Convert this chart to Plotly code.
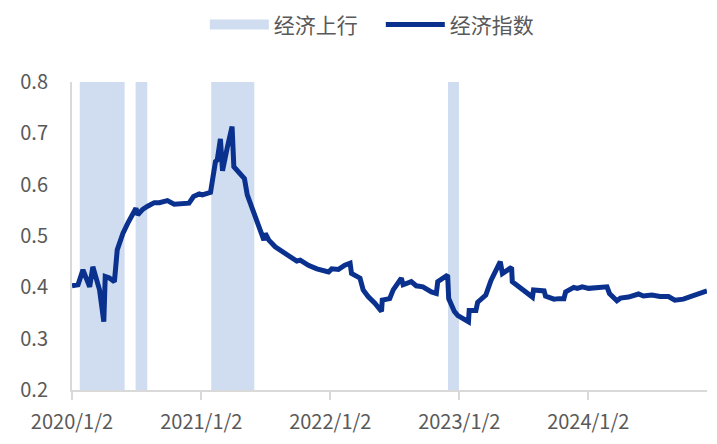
import plotly.graph_objects as go

# ---- data ----
dates = [
    "2020-01-02", "2020-01-19", "2020-02-02", "2020-02-11", "2020-02-21", "2020-03-01",
    "2020-03-10", "2020-03-20", "2020-04-01", "2020-04-05", "2020-04-17", "2020-05-01",
    "2020-05-09", "2020-05-25", "2020-06-08", "2020-06-27", "2020-07-01", "2020-07-06",
    "2020-07-20", "2020-08-03", "2020-08-22", "2020-09-05", "2020-09-28", "2020-10-17",
    "2020-11-09", "2020-11-28", "2020-12-11", "2020-12-27", "2021-01-05", "2021-01-28",
    "2021-02-11", "2021-02-16", "2021-02-25", "2021-03-03", "2021-03-16", "2021-03-30",
    "2021-04-04", "2021-04-23", "2021-05-04", "2021-05-12", "2021-05-30", "2021-06-14",
    "2021-06-28", "2021-07-02", "2021-07-12", "2021-07-30", "2021-08-13", "2021-09-01",
    "2021-09-29", "2021-10-09", "2021-11-01", "2021-11-25", "2021-12-18", "2021-12-28",
    "2022-01-06", "2022-01-25", "2022-02-12", "2022-02-27", "2022-03-03", "2022-03-27",
    "2022-04-05", "2022-04-19", "2022-05-08", "2022-05-27", "2022-05-29", "2022-06-19",
    "2022-06-29", "2022-07-22", "2022-07-27", "2022-08-19", "2022-09-02", "2022-09-21",
    "2022-10-15", "2022-10-29", "2022-11-02", "2022-11-30", "2022-12-03", "2022-12-19",
    "2022-12-29", "2023-01-07", "2023-01-28", "2023-01-30", "2023-02-18", "2023-02-23",
    "2023-03-18", "2023-04-02", "2023-04-28", "2023-05-04", "2023-05-30", "2023-06-01",
    "2023-06-25", "2023-07-28", "2023-07-31", "2023-08-30", "2023-09-03", "2023-09-27",
    "2023-10-11", "2023-10-25", "2023-10-30", "2023-11-22", "2023-12-02", "2023-12-16",
    "2024-01-03", "2024-01-13", "2024-02-01", "2024-02-24", "2024-03-02", "2024-03-23",
    "2024-04-02", "2024-04-25", "2024-05-23", "2024-06-06", "2024-06-30", "2024-07-23",
    "2024-08-16", "2024-09-03", "2024-09-27", "2024-10-16", "2024-10-30", "2024-11-22",
    "2024-12-03",
]
index_values = [
    0.403, 0.405, 0.434, 0.421, 0.401, 0.440,
    0.414, 0.395, 0.333, 0.421, 0.418, 0.411,
    0.473, 0.505, 0.525, 0.547, 0.554, 0.541,
    0.552, 0.558, 0.565, 0.565, 0.569, 0.562,
    0.562, 0.564, 0.577, 0.582, 0.580, 0.585,
    0.645, 0.648, 0.689, 0.627, 0.671, 0.713,
    0.635, 0.622, 0.612, 0.580, 0.547, 0.518,
    0.492, 0.505, 0.492, 0.479, 0.473, 0.463,
    0.451, 0.453, 0.443, 0.436, 0.432, 0.430,
    0.436, 0.435, 0.443, 0.447, 0.427, 0.418,
    0.395, 0.382, 0.369, 0.353, 0.375, 0.378,
    0.395, 0.418, 0.405, 0.411, 0.403, 0.401,
    0.391, 0.388, 0.411, 0.424, 0.378, 0.353,
    0.345, 0.342, 0.333, 0.355, 0.355, 0.371,
    0.385, 0.414, 0.450, 0.427, 0.439, 0.411,
    0.398, 0.381, 0.395, 0.393, 0.383, 0.377,
    0.378, 0.378, 0.391, 0.400, 0.398, 0.401,
    0.398, 0.399, 0.399, 0.401, 0.388, 0.374,
    0.379, 0.381, 0.387, 0.383, 0.385, 0.382,
    0.382, 0.375, 0.377, 0.381, 0.385, 0.391,
    0.393,
]
upturn_starts = ["2020-01-24", "2020-06-30", "2021-01-30", "2022-12-01"]
upturn_ends = ["2020-05-30", "2020-08-02", "2021-06-01", "2023-01-01"]

tick_dates = ["2020-01-02", "2021-01-02", "2022-01-02", "2023-01-02", "2024-01-02"]
tick_labels = ["2020/1/2", "2021/1/2", "2022/1/2", "2023/1/2", "2024/1/2"]
y_ticks = [0.2, 0.3, 0.4, 0.5, 0.6, 0.7, 0.8]
y_min, y_max = 0.2, 0.8
x_start, x_end = "2020-01-02", "2024-12-03"

# ---- style ----
FONT = "Noto Sans CJK SC"
TXT = "#595959"
BAND = "#D0DDF0"
LINE = "#0B318F"
AXIS = "#D9D9D9"

band_x, band_y = [], []
for s, e in zip(upturn_starts, upturn_ends):
    band_x += [s, s, e, e, s, None]
    band_y += [y_min, y_max, y_max, y_min, y_min, None]

fig = go.Figure()
fig.add_trace(go.Scatter(
    x=band_x, y=band_y, mode="lines", fill="toself", fillcolor=BAND,
    line=dict(width=0, color=BAND), name="经济上行", hoverinfo="skip",
    showlegend=False, legendgroup="band",
))
# legend entry for the shaded periods (drawn as a wide swatch)
fig.add_trace(go.Scatter(
    x=[None], y=[None], mode="lines", name="经济上行", legendgroup="band",
    line=dict(width=13, color=BAND), hoverinfo="skip",
))
fig.add_trace(go.Scatter(
    x=dates, y=index_values, mode="lines", name="经济指数",
    line=dict(color=LINE, width=5),
))

fig.update_layout(
    width=717, height=444,
    margin=dict(l=61, r=18, t=74, b=62),
    paper_bgcolor="white", plot_bgcolor="white",
    font=dict(family=FONT, size=20, color=TXT),
    showlegend=True,
    legend=dict(
        orientation="h", xref="container", yref="container",
        x=0.2745, xanchor="left", y=0.962, yanchor="middle",
        font=dict(size=21, color=TXT), itemwidth=59,
        entrywidth=102, entrywidthmode="pixels",
        bgcolor="rgba(0,0,0,0)",
    ),
    xaxis=dict(
        type="date", range=[x_start, x_end],
        tickvals=tick_dates, ticktext=tick_labels,
        showgrid=False, zeroline=False,
        showline=True, linecolor=AXIS, linewidth=2,
        ticks="outside", ticklen=8, tickcolor=AXIS, tickwidth=2,
        ticklabelstandoff=5,
    ),
    yaxis=dict(
        range=[y_min, y_max], tickvals=y_ticks,
        ticktext=[f"{v:.1f}" for v in y_ticks],
        showgrid=False, zeroline=False,
        showline=True, linecolor=AXIS, linewidth=2,
        ticks="", ticklabelstandoff=18,
    ),
)

fig.write_html("out.html")
